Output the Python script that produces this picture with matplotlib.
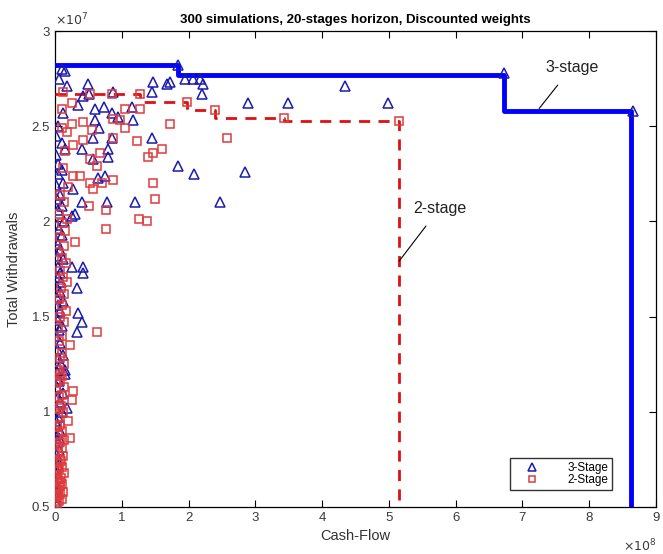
import numpy as np
import matplotlib.pyplot as plt

plt.rcParams['font.family'] = ['Liberation Sans', 'DejaVu Sans']

# cash flow in 1e8, total withdrawals in 1e7
x3 = [0.02, 0.03, 0.01, 0.04, 0.02, 0.05, 0.03, 0.01, 0.06, 0.04, 0.02, 0.07, 0.03, 0.05, 0.10,
      0.02, 0.08, 0.04, 0.12, 0.03, 0.06, 0.15, 0.02, 0.09, 0.05, 0.12, 0.03, 0.08, 0.02, 0.06,
      0.33, 0.10, 0.04, 0.02, 0.08, 0.34, 0.40, 0.05, 0.12, 0.03, 0.07, 0.02, 0.09, 0.05, 0.07,
      0.42, 0.42, 0.25, 0.33, 0.04, 0.12, 0.03, 0.08, 0.05, 0.02, 0.10, 0.06, 0.03, 0.14, 0.25,
      0.30, 0.05, 0.10, 0.40, 0.03, 0.07, 0.27, 0.02, 0.12, 0.64, 0.75, 0.10, 0.05, 0.57, 0.80,
      0.15, 0.40, 0.80, 0.10, 0.57, 0.85, 0.66, 0.60, 0.94, 1.17, 0.12, 0.85, 0.60, 0.73, 1.15,
      0.34, 0.42, 0.51, 0.87, 0.49, 0.18, 0.06, 0.10, 0.15, 1.47, 1.45, 1.68, 1.72, 1.45, 1.84,
      2.08, 2.84, 1.20, 2.47, 0.78, 1.95, 2.07, 2.17, 2.22, 2.20, 2.89, 3.49, 4.34, 4.99, 1.84,
      6.73, 8.65, 0.02, 0.05, 0.02, 0.04, 0.18, 0.15, 0.01, 0.03, 0.02, 0.06, 0.01, 0.04]
y3 = [0.55, 0.58, 0.62, 0.65, 0.68, 0.72, 0.75, 0.78, 0.80, 0.84, 0.88, 0.90, 0.93, 0.97, 1.00,
      1.02, 1.05, 1.08, 1.10, 1.13, 1.16, 1.20, 1.22, 1.25, 1.28, 1.30, 1.33, 1.36, 1.40, 1.43,
      1.42, 1.45, 1.48, 1.50, 1.53, 1.52, 1.47, 1.56, 1.58, 1.60, 1.63, 1.66, 1.68, 1.71, 1.73,
      1.76, 1.73, 1.76, 1.65, 1.76, 1.80, 1.82, 1.85, 1.88, 1.90, 1.93, 1.96, 1.98, 2.00, 2.03,
      2.04, 2.06, 2.08, 2.10, 2.12, 2.14, 2.17, 2.19, 2.20, 2.23, 2.24, 2.27, 2.30, 2.33, 2.34,
      2.38, 2.38, 2.38, 2.41, 2.44, 2.44, 2.49, 2.53, 2.55, 2.53, 2.57, 2.57, 2.59, 2.60, 2.60,
      2.61, 2.66, 2.67, 2.68, 2.72, 2.71, 2.75, 2.80, 2.79, 2.73, 2.68, 2.72, 2.73, 2.44, 2.29,
      2.25, 2.26, 2.10, 2.10, 2.10, 2.75, 2.75, 2.75, 2.72, 2.67, 2.62, 2.62, 2.71, 2.62, 2.82,
      2.78, 2.58, 2.45, 2.50, 2.35, 2.25, 1.02, 1.22, 0.52, 0.60, 0.70, 0.86, 0.95, 1.17]

x2 = [0.03, 0.06, 0.10, 0.04, 0.08, 0.12, 0.02, 0.07, 0.11, 0.05, 0.09, 0.03, 0.13, 0.06, 0.10,
      0.04, 0.08, 0.12, 0.05, 0.10, 0.07, 0.22, 0.04, 0.11, 0.08, 0.20, 0.05, 0.12, 0.09, 0.25,
      0.06, 0.27, 0.14, 0.07, 0.10, 0.05, 0.13, 0.08, 0.11, 0.22, 0.06, 0.10, 0.63, 0.05, 0.13,
      0.08, 0.16, 0.10, 0.06, 0.14, 0.09, 0.18, 0.12, 0.07, 0.16, 0.10, 0.05, 0.13, 0.30, 0.08,
      0.15, 0.76, 0.10, 0.18, 1.26, 1.38, 0.06, 0.76, 0.51, 0.13, 1.50, 0.08, 0.57, 0.20, 0.52,
      0.70, 1.47, 0.87, 0.37, 0.27, 0.12, 0.63, 0.52, 1.39, 0.67, 1.47, 1.60, 0.15, 0.27, 1.23,
      0.42, 0.87, 2.57, 0.18, 0.55, 0.10, 1.05, 0.25, 0.42, 1.72, 0.97, 0.87, 3.43, 0.10, 1.05,
      1.27, 2.40, 0.25, 1.98, 0.12, 0.52, 0.85, 1.27, 5.15, 0.02, 0.04, 0.07, 0.03, 0.09, 0.05,
      0.14, 0.03, 0.06, 0.11, 0.02, 0.08]
y2 = [0.52, 0.53, 0.54, 0.56, 0.57, 0.58, 0.60, 0.61, 0.62, 0.64, 0.65, 0.67, 0.68, 0.70, 0.71,
      0.73, 0.75, 0.77, 0.79, 0.81, 0.84, 0.86, 0.88, 0.90, 0.93, 0.95, 0.97, 1.00, 1.03, 1.06,
      1.08, 1.11, 1.13, 1.16, 1.19, 1.22, 1.25, 1.28, 1.31, 1.35, 1.37, 1.40, 1.42, 1.44, 1.47,
      1.50, 1.53, 1.56, 1.59, 1.62, 1.65, 1.68, 1.71, 1.74, 1.78, 1.81, 1.84, 1.87, 1.89, 1.92,
      1.95, 1.96, 1.99, 2.01, 2.01, 2.00, 2.04, 2.06, 2.08, 2.10, 2.12, 2.14, 2.17, 2.18, 2.20,
      2.20, 2.20, 2.22, 2.24, 2.24, 2.28, 2.29, 2.33, 2.34, 2.36, 2.36, 2.38, 2.37, 2.40, 2.42,
      2.43, 2.44, 2.44, 2.47, 2.48, 2.49, 2.49, 2.51, 2.52, 2.51, 2.53, 2.54, 2.545, 2.59, 2.59,
      2.59, 2.585, 2.62, 2.625, 2.68, 2.67, 2.67, 2.67, 2.525, 0.55, 0.59, 0.63, 0.69, 0.74, 0.82,
      0.85, 0.92, 1.02, 1.09, 1.15, 1.20]

# Pareto frontiers (pre-step)
f3_x = [0, 1.84, 6.73, 8.63, 8.63]
f3_y = [2.82, 2.82, 2.77, 2.58, 0.5]
f2_x = [0, 1.27, 1.98, 2.40, 3.43, 5.15, 5.15]
f2_y = [2.67, 2.67, 2.625, 2.585, 2.545, 2.525, 0.5]

fig = plt.figure(figsize=(6.63, 5.54), dpi=100)
ax = fig.add_axes([0.083, 0.085, 0.9065, 0.859])

ax.step(f3_x, f3_y, where='pre', color='#0000ff', lw=3.5, zorder=3)
ax.step(f2_x, f2_y, where='pre', color='#e01010', lw=2, ls=(0, (4, 3)), zorder=3)

ax.plot(x3, y3, ls='none', marker='^', ms=7, mfc='none', mec='#1a1ab0', mew=1.1,
        label='3-Stage', zorder=4)
ax.plot(x2, y2, ls='none', marker='s', ms=6, mfc='none', mec='#e03a3a', mew=1.1,
        label='2-Stage', zorder=4)

ax.annotate('3-stage', xy=(7.25, 2.593), xytext=(7.74, 2.81), fontsize=11.5, ha='center',
            va='center', color='#222222',
            arrowprops=dict(arrowstyle='-', color='black', lw=0.8, shrinkA=7, shrinkB=0))
ax.annotate('2-stage', xy=(5.15, 1.79), xytext=(5.76, 2.07), fontsize=11.5, ha='center',
            va='center', color='#222222',
            arrowprops=dict(arrowstyle='-', color='black', lw=0.8, shrinkA=7, shrinkB=0))

ax.set_xlim(0, 9)
ax.set_ylim(0.5, 3)
ax.set_xticks(range(10))
ax.set_yticks([0.5, 1, 1.5, 2, 2.5, 3])
ax.set_yticklabels(['0.5', '1', '1.5', '2', '2.5', '3'])
ax.tick_params(direction='in', length=5, top=True, right=True, labelsize=9.5,
               labelcolor='#3a3a3a', width=0.8)
for s in ax.spines.values():
    s.set_linewidth(0.9)

ax.text(0.0, 1.005, r'$\times10^7$', transform=ax.transAxes, fontsize=9, color='#3a3a3a',
        va='bottom', ha='left')
ax.text(1.0, -0.065, r'$\times10^8$', transform=ax.transAxes, fontsize=9, color='#3a3a3a',
        va='top', ha='right')

ax.set_xlabel('Cash-Flow', fontsize=10.5, color='#333333', labelpad=4)
ax.set_ylabel('Total Withdrawals', fontsize=10.5, color='#333333', labelpad=8)
ax.set_title('300 simulations, 20-stages horizon, Discounted weights', fontsize=9.5,
             fontweight='bold', pad=6)

ax.legend(loc='lower right', bbox_to_anchor=(0.927, 0.036), fontsize=8.5, frameon=True,
          fancybox=False, edgecolor='black', handletextpad=1.4, borderpad=0.3,
          labelspacing=0.05, handlelength=3.2, markerscale=0.8, borderaxespad=0)

fig.savefig('out.png', dpi=100)
